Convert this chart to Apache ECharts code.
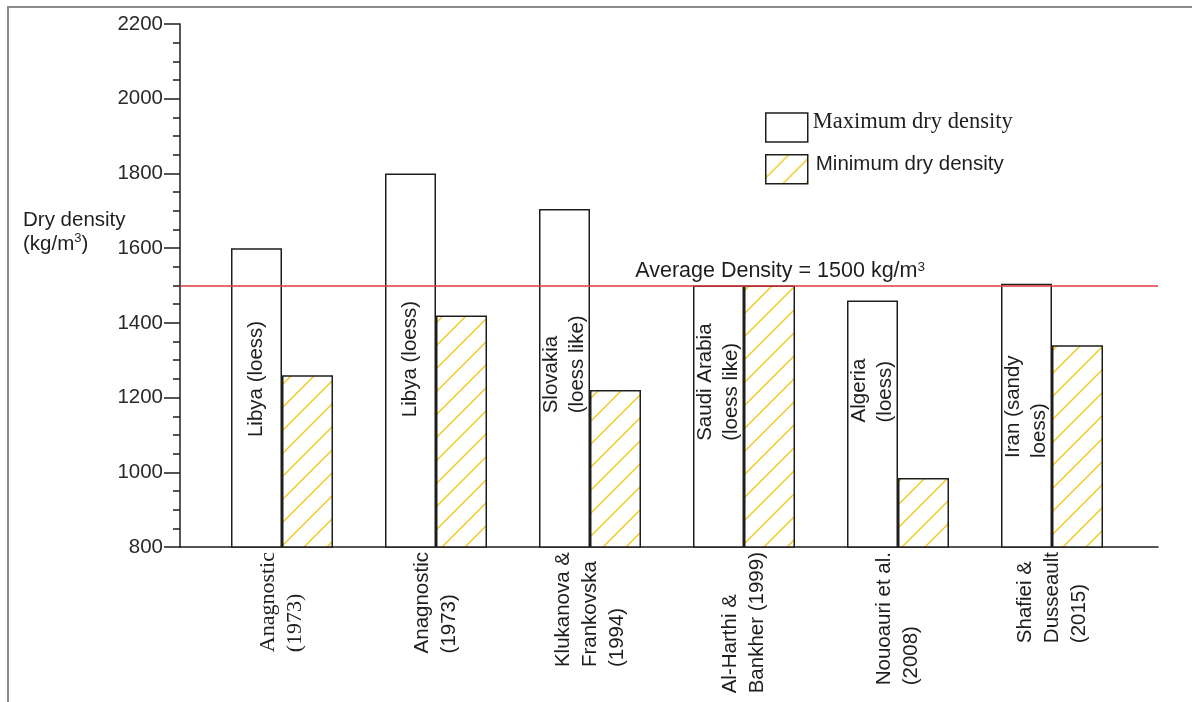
<!DOCTYPE html>
<html>
<head>
<meta charset="utf-8">
<script src="https://cdn.jsdelivr.net/npm/echarts@6/dist/echarts.min.js"></script>
<style>
  html, body { margin: 0; padding: 0; background: #fff; }
  #frame { position: absolute; left: 7px; top: 6px; right: 0; bottom: 0;
           border-top: 2px solid #8c8c8c; border-left: 2px solid #8c8c8c; }
  #chart { position: absolute; left: 0; top: 0; width: 1192px; height: 702px; }
</style>
</head>
<body>
<div id="frame"></div>
<div id="chart"></div>
<script>
// Studies (x-axis categories)
const studies = [
  'Anagnostic\n(1973)',
  'Anagnostic\n(1973)',
  'Klukanova &\nFrankovska\n(1994)',
  'Al-Harthi &\nBankher (1999)',
  'Nouoauri et al.\n(2008)',
  'Shafiei &\nDusseault\n(2015)'
];
// Soil type written inside each maximum bar
const soilTypes = [
  'Libya (loess)',
  'Libya (loess)',
  'Slovakia\n(loess like)',
  'Saudi Arabia\n(loess like)',
  'Algeria\n(loess)',
  'Iran (sandy\nloess)'
];
// Dry density, kg/m3
const maxDryDensity = [1600, 1800, 1705, 1500, 1460, 1505];
const minDryDensity = [1260, 1420, 1220, 1500, 985, 1340];
const averageDensity = 1500;
// Value axis range and tick step
const yMin = 800, yMax = 2200, yStep = 200;

// Upward shift (px) of the soil-type text inside each maximum bar
const soilLabelShift = [19, 1.5, 14, 34.5, 33.5, 9];

const FONT = 'Liberation Sans';
const SERIF = 'Liberation Serif';
const INK = '#1e1e1e';
const MAX_NAME = 'Maximum dry density';
const MIN_NAME = 'Minimum dry density';

// Yellow diagonal hatching for the minimum-density bars
function hatchPattern() {
  const s = 23;
  const c = document.createElement('canvas');
  c.width = s; c.height = s;
  const g = c.getContext('2d');
  g.fillStyle = '#ffffff';
  g.fillRect(0, 0, s, s);
  g.strokeStyle = '#f2cb28';
  g.lineWidth = 1.5;
  g.beginPath();
  g.moveTo(-1, s + 1); g.lineTo(s + 1, -1);
  g.moveTo(-4, 4); g.lineTo(4, -4);
  g.moveTo(s - 4, s + 4); g.lineTo(s + 4, s - 4);
  g.stroke();
  return { image: c, repeat: 'repeat' };
}

const wrapLines = (text, style) =>
  text.split('\n').map(l => '{' + style + '|' + l + '}').join('\n');

const chart = echarts.init(document.getElementById('chart'), null, { renderer: 'canvas' });

const option = {
  animation: false,
  textStyle: { fontFamily: FONT, color: INK },
  title: {
    left: 18,
    top: 203,
    text: '{a|Dry density}\n{a|(kg/m}{s|3}{a|)}',
    textStyle: {
      rich: {
        a: { fontFamily: FONT, fontSize: 20.5, color: INK, lineHeight: 24, fontWeight: 'normal' },
        s: { fontFamily: FONT, fontSize: 13, color: INK, verticalAlign: 'top', lineHeight: 14, fontWeight: 'normal' }
      }
    }
  },
  legend: {
    orient: 'vertical',
    left: 760,
    top: 106,
    icon: 'rect',
    itemWidth: 42,
    itemHeight: 29,
    itemGap: 11,
    itemStyle: { borderColor: INK, borderWidth: 1.5 },
    formatter: name => name === MAX_NAME ? '{m|' + name + '}' : '{n|' + name + '}',
    textStyle: {
      rich: {
        m: { fontFamily: SERIF, fontSize: 22.5, color: INK, padding: [0, 0, 10, 0] },
        n: { fontFamily: FONT, fontSize: 20.5, color: INK, padding: [0, 0, 10, 3] }
      }
    },
    data: [MAX_NAME, MIN_NAME]
  },
  grid: [
    // bars
    { left: 205, right: 63, top: 24, bottom: 155 },
    // frame axes and the average line
    { left: 180, right: 34, top: 24, bottom: 155 }
  ],
  xAxis: [
    {
      type: 'category',
      gridIndex: 0,
      data: studies,
      axisLine: { show: false },
      axisTick: { show: false },
      axisLabel: {
        rotate: 90,
        margin: 5,
        interval: 0,
        formatter: (v, i) => wrapLines(v, i === 0 ? 's' : 'l'),
        rich: {
          l: { align: 'left', fontFamily: FONT, fontSize: 20.5, lineHeight: 27, color: INK },
          s: { align: 'left', fontFamily: SERIF, fontSize: 22, lineHeight: 27, color: INK }
        }
      }
    },
    {
      type: 'value',
      gridIndex: 1,
      min: 0,
      max: 1,
      axisLine: { show: true, onZero: false, lineStyle: { color: INK, width: 1.5 } },
      axisTick: { show: false },
      axisLabel: { show: false },
      splitLine: { show: false }
    }
  ],
  yAxis: [
    {
      type: 'value',
      gridIndex: 0,
      min: yMin,
      max: yMax,
      interval: yStep,
      show: false
    },
    {
      type: 'value',
      gridIndex: 1,
      min: yMin,
      max: yMax,
      interval: yStep,
      axisLine: { show: true, lineStyle: { color: INK, width: 1.5 } },
      axisTick: { show: true, length: 16, lineStyle: { color: INK, width: 1.5 } },
      minorTick: { show: true, splitNumber: 4, length: 7, lineStyle: { color: INK, width: 1.5 } },
      splitLine: { show: false },
      minorSplitLine: { show: false },
      axisLabel: {
        fontFamily: FONT, fontSize: 20.5, color: '#2a2a2a', margin: 17,
        formatter: v => String(v)
      }
    }
  ],
  series: [
    {
      name: MAX_NAME,
      type: 'bar',
      xAxisIndex: 0,
      yAxisIndex: 0,
      barWidth: 51,
      barGap: '0%',
      itemStyle: { color: '#ffffff', borderColor: INK, borderWidth: 1.5 },
      label: {
        show: true,
        position: 'inside',
        rotate: 90,
        formatter: p => wrapLines(soilTypes[p.dataIndex], 'l'),
        rich: {
          l: { align: 'left', fontFamily: FONT, fontSize: 20.5, lineHeight: 26, color: INK }
        }
      },
      data: maxDryDensity.map((v, i) => ({
        value: v,
        label: { offset: [soilLabelShift[i], 0] }
      }))
    },
    {
      name: MIN_NAME,
      type: 'bar',
      xAxisIndex: 0,
      yAxisIndex: 0,
      barWidth: 51,
      barGap: '0%',
      itemStyle: { color: hatchPattern(), borderColor: INK, borderWidth: 1.5 },
      data: minDryDensity
    },
    {
      name: 'Average',
      type: 'line',
      xAxisIndex: 1,
      yAxisIndex: 1,
      data: [],
      markLine: {
        silent: true,
        symbol: 'none',
        lineStyle: { color: '#dc3c3f', width: 1.5, type: 'solid' },
        label: {
          position: 'insideEndTop',
          distance: 3,
          padding: [0, 230, 0, 0],
          fontFamily: FONT,
          fontSize: 21.5,
          color: INK,
          formatter: () => 'Average Density = ' + averageDensity + ' kg/m{sup|3}',
          rich: {
            sup: { fontFamily: FONT, fontSize: 13.5, color: INK, verticalAlign: 'top' }
          }
        },
        data: [{ yAxis: averageDensity }]
      }
    }
  ]
};

chart.setOption(option);
</script>
</body>
</html>
